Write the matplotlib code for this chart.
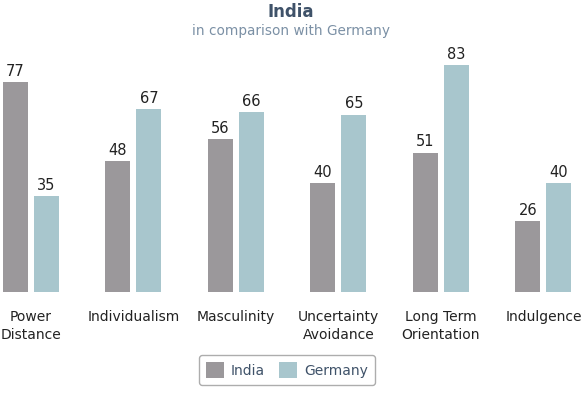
import matplotlib.pyplot as plt
from matplotlib.patches import Patch
import numpy as np

categories = ['Power\nDistance', 'Individualism', 'Masculinity',
              'Uncertainty\nAvoidance', 'Long Term\nOrientation', 'Indulgence']
india = [77, 48, 56, 40, 51, 26]
germany = [35, 67, 66, 65, 83, 40]

col_india = '#9b989b'
col_germany = '#a8c6cd'

W, H = 582, 393
fig = plt.figure(figsize=(W / 100, H / 100), dpi=100)
plt.rcParams['font.family'] = 'DejaVu Sans'

# axes in pixel terms: baseline at y=292, top at y=50
ax = fig.add_axes([0, 1 - 292 / H, 1, (292 - 50) / H])
step = 102.5
x0 = 31
ax.set_xlim(-x0 / step, (W - x0) / step)
ax.set_ylim(0, (292 - 50) / 2.73)
ax.axis('off')

x = np.arange(len(categories))
off = 15.5 / step
bw = 25 / step
ax.bar(x - off, india, bw, color=col_india)
ax.bar(x + off, germany, bw, color=col_germany)

for xi, v in zip(x - off, india):
    ax.text(xi, v + 1.2, str(v), ha='center', va='bottom', fontsize=10.5, color='#222222')
for xi, v in zip(x + off, germany):
    ax.text(xi, v + 1.2, str(v), ha='center', va='bottom', fontsize=10.5, color='#222222')

for xi, lab in zip(x, categories):
    ax.text(xi, -6.5, lab, ha='center', va='top', fontsize=10, color='#222222',
            linespacing=1.35)

fig.text(0.5, 1 - 12 / H, 'India', ha='center', va='center', fontsize=12,
         fontweight='bold', color='#3f5269')
fig.text(0.5, 1 - 31 / H, 'in comparison with Germany', ha='center', va='center',
         fontsize=9.8, color='#7b90a5')

handles = [Patch(facecolor=col_india, label='India'),
           Patch(facecolor=col_germany, label='Germany')]
leg = fig.legend(handles=handles, loc='center', bbox_to_anchor=(287 / W, 1 - 370 / H),
                 ncol=2, frameon=True, fontsize=10, handlelength=1.3, handleheight=1.3,
                 columnspacing=1.0, handletextpad=0.5, borderpad=0.5, fancybox=True)
leg.get_frame().set_edgecolor('#999999')
leg.get_frame().set_linewidth(1.0)
for t in leg.get_texts():
    t.set_color('#3f5269')

fig.savefig('out.png', dpi=100)
